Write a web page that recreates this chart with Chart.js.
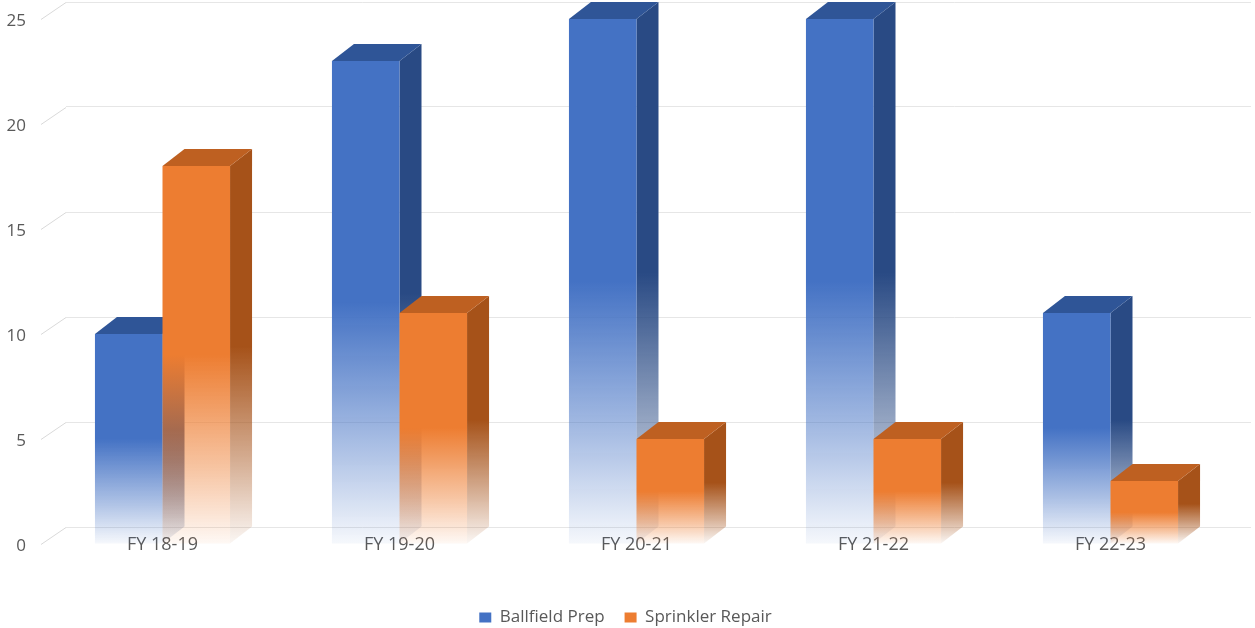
<!DOCTYPE html>
<html>
<head>
<meta charset="utf-8">
<title>Ballfield Prep vs Sprinkler Repair</title>
<script src="https://cdn.jsdelivr.net/npm/chart.js@4.4.1/dist/chart.umd.min.js"></script>
<style>
    html, body { margin: 0; padding: 0; background: #fff; }
    #wrap { width: 1255px; height: 628px; position: relative; }
</style>
</head>
<body>
<div id="wrap"><canvas id="workChart"></canvas></div>
<script>
const categories = ['FY 18-19', 'FY 19-20', 'FY 20-21', 'FY 21-22', 'FY 22-23'];
const ballfieldPrep = [10, 23, 25, 25, 11];
const sprinklerRepair = [18, 11, 5, 5, 3];
const yTicks = [0, 5, 10, 15, 20, 25];

// how far the front of each box sits from the back wall
const DX = 22;
const DY = 17;

const seriesColors = {
    'Ballfield Prep': { front: [68, 114, 196], top: [47, 85, 151], side: [41, 74, 132] },
    'Sprinkler Repair': { front: [237, 125, 49], top: [190, 96, 33], side: [166, 82, 25] }
};

function rgba(c, a) {
    return `rgba(${c[0]}, ${c[1]}, ${c[2]}, ${a})`;
}

function fadeFill(ctx, c, top, bottom) {
    const g = ctx.createLinearGradient(0, top, 0, bottom);
    g.addColorStop(0, rgba(c, 1));
    g.addColorStop(0.5, rgba(c, 1));
    g.addColorStop(0.8, rgba(c, 0.45));
    g.addColorStop(1, rgba(c, 0.05));
    return g;
}

// draws the slanted tick leaders and the 3d boxes on top of the flat bars
const boxes3d = {
    id: 'boxes3d',
    afterLayout(chart) {
        // legend sits a little lower than the default layout puts it
        if (chart.legend) {
            chart.legend.top += 8;
            chart.legend.bottom += 8;
        }
    },
    beforeDatasetsDraw(chart) {
        const ctx = chart.ctx;
        const yScale = chart.scales.y;
        const left = chart.chartArea.left;
        ctx.save();
        ctx.strokeStyle = '#d9d9d9';
        ctx.lineWidth = 1;
        yTicks.forEach(v => {
            const py = Math.round(yScale.getPixelForValue(v)) + 0.5;
            ctx.beginPath();
            ctx.moveTo(left - DX - 3, py + DY);
            ctx.lineTo(left, py);
            ctx.stroke();
        });
        ctx.restore();
    },
    afterDatasetsDraw(chart) {
        const ctx = chart.ctx;
        const metas = chart.getSortedVisibleDatasetMetas();
        ctx.save();
        for (let i = 0; i < categories.length; i++) {
            metas.forEach(meta => {
                const ds = chart.data.datasets[meta.index];
                const col = seriesColors[ds.label];
                const p = meta.data[i].getProps(['x', 'y', 'base', 'width'], true);
                const bl = p.x - p.width / 2;
                const br = p.x + p.width / 2;
                const bt = p.y;
                const bb = p.base;
                const fl = bl - DX, fr = br - DX, ft = bt + DY, fb = bb + DY;

                // right side
                ctx.beginPath();
                ctx.moveTo(fr, ft);
                ctx.lineTo(br, bt);
                ctx.lineTo(br, bb);
                ctx.lineTo(fr, fb);
                ctx.closePath();
                ctx.fillStyle = fadeFill(ctx, col.side, bt, fb);
                ctx.fill();

                // top
                ctx.beginPath();
                ctx.moveTo(fl, ft);
                ctx.lineTo(bl, bt);
                ctx.lineTo(br, bt);
                ctx.lineTo(fr, ft);
                ctx.closePath();
                ctx.fillStyle = rgba(col.top, 1);
                ctx.fill();

                // front
                ctx.fillStyle = fadeFill(ctx, col.front, ft, fb);
                ctx.fillRect(fl, ft, fr - fl, fb - ft);
            });
        }
        ctx.restore();
    }
};

const ctx = document.getElementById('workChart').getContext('2d');
window.myChart = new Chart(ctx, {
    type: 'bar',
    data: {
        labels: categories,
        datasets: [{
            label: 'Ballfield Prep',
            data: ballfieldPrep,
            backgroundColor: 'rgba(0, 0, 0, 0)',
            borderWidth: 0
        }, {
            label: 'Sprinkler Repair',
            data: sprinklerRepair,
            backgroundColor: 'rgba(0, 0, 0, 0)',
            borderWidth: 0
        }]
    },
    options: {
        responsive: true,
        maintainAspectRatio: false,
        animation: false,
        events: [],
        layout: { padding: { top: 2, right: 4, left: 0, bottom: 0 } },
        datasets: {
            bar: { categoryPercentage: 0.57, barPercentage: 1 }
        },
        scales: {
            x: {
                grid: { display: false, drawTicks: false },
                border: { display: false },
                ticks: {
                    color: '#595959',
                    font: { family: 'Open Sans', size: 18 },
                    padding: 7,
                    labelOffset: -DX,
                    maxRotation: 0
                },
                afterFit(scale) {
                    const legend = scale.chart.legend;
                    scale.height = 628 - 527 - (legend ? legend.height : 0);
                    scale.paddingLeft = 0;
                    scale.paddingRight = 0;
                }
            },
            y: {
                min: 0,
                max: 25,
                grid: { color: '#e6e6e6', drawTicks: false },
                border: { display: false },
                ticks: {
                    stepSize: 5,
                    color: '#595959',
                    font: { family: 'Open Sans', size: 17 },
                    padding: 40,
                    labelOffset: DY + 2
                },
                afterFit(scale) {
                    scale.width = 66;
                    scale.paddingTop = 0;
                    scale.paddingBottom = 0;
                }
            }
        },
        plugins: {
            tooltip: { enabled: false },
            legend: {
                position: 'bottom',
                labels: {
                    color: '#595959',
                    font: { family: 'Open Sans', size: 17 },
                    boxWidth: 12,
                    boxHeight: 10,
                    padding: 20,
                    generateLabels(chart) {
                        return chart.data.datasets.map((ds, i) => ({
                            text: ds.label,
                            fillStyle: rgba(seriesColors[ds.label].front, 1),
                            strokeStyle: 'rgba(0, 0, 0, 0)',
                            lineWidth: 0,
                            fontColor: '#595959',
                            datasetIndex: i
                        }));
                    }
                }
            }
        }
    },
    plugins: [boxes3d]
});
</script>
</body>
</html>
